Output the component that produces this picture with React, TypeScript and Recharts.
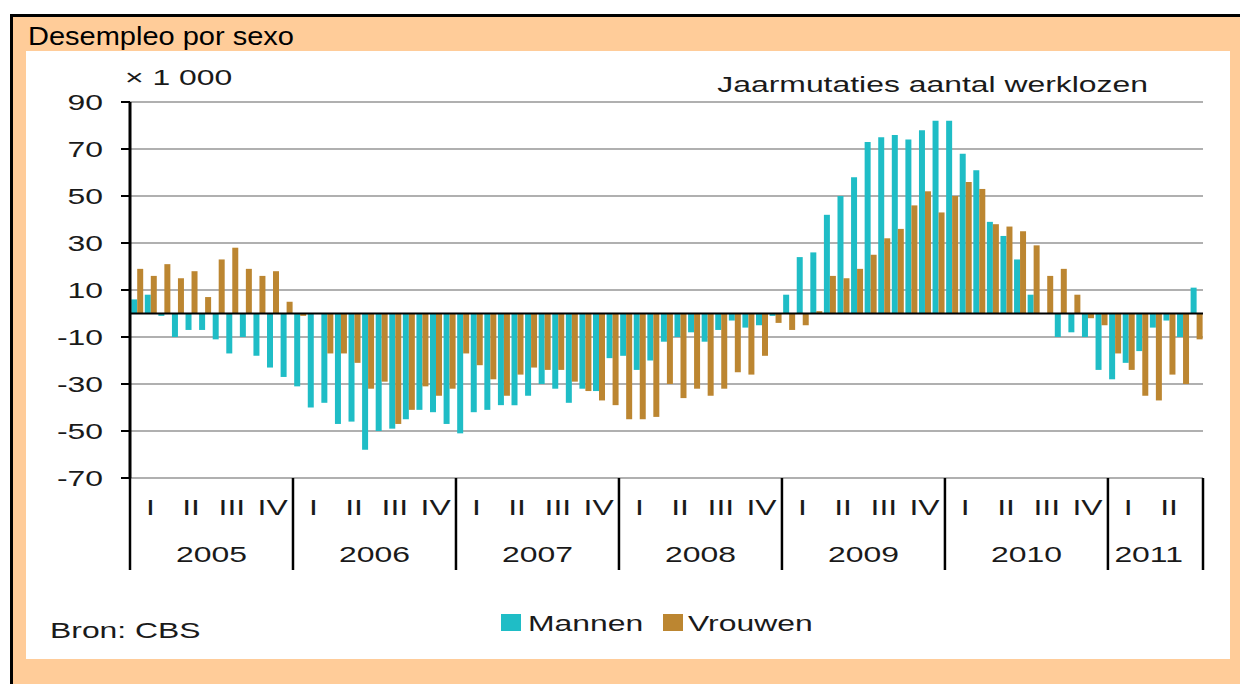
import { BarChart, Bar, XAxis, YAxis, CartesianGrid, ReferenceLine, Legend } from 'recharts';

// Jaarmutaties aantal werklozen (x 1 000), per maand, jan 2005 - jul 2011
const years = [2005, 2006, 2007, 2008, 2009, 2010, 2011];
const monthsPerYear = [12, 12, 12, 12, 12, 12, 7];
const quarters = ['I', 'II', 'III', 'IV'];
const yTicks = [-70, -50, -30, -10, 10, 30, 50, 70, 90];

const mannen = [
    6, 8, -1, -10, -7, -7, -11, -17, -10, -18, -23, -27,
    -31, -40, -38, -47, -46, -58, -50, -49, -45, -41, -42, -47,
    -51, -42, -41, -39, -39, -35, -30, -32, -38, -32, -33, -19,
    -18, -24, -20, -12, -10, -8, -12, -7, -3, -6, -5, -1,
    8, 24, 26, 42, 50, 58, 73, 75, 76, 74, 78, 82,
    82, 68, 61, 39, 33, 23, 8, 0, -10, -8, -10, -24,
    -28, -21, -16, -6, -3, -10, 11,
];

const vrouwen = [
    19, 16, 21, 15, 18, 7, 23, 28, 19, 16, 18, 5,
    -1, 0, -17, -17, -21, -32, -29, -47, -41, -31, -35, -32,
    -17, -22, -28, -35, -26, -23, -24, -24, -29, -33, -37, -39,
    -45, -45, -44, -30, -36, -32, -35, -32, -25, -26, -18, -4,
    -7, -5, 1, 16, 15, 19, 25, 32, 36, 46, 52, 43,
    50, 56, 53, 38, 37, 35, 29, 16, 19, 8, -2, -5,
    -17, -24, -35, -37, -26, -30, -11,
];

const CYAN = '#1fbdc6';
const BROWN = '#bc8631';
const FONT = '"Liberation Sans", Arial, Helvetica, sans-serif';
const STRETCH = 1.45;

const chartData: { month: string; year: number; m: number; mannen: number; vrouwen: number }[] = [];
let k = 0;
years.forEach((yr, yi) => {
    for (let m = 0; m < monthsPerYear[yi]; m++) {
        chartData.push({ month: `${yr}-${m + 1}`, year: yr, m, mannen: mannen[k], vrouwen: vrouwen[k] });
        k++;
    }
});

const PLOT_LEFT = 130;
const PLOT_RIGHT = 1203;
const BAND = (PLOT_RIGHT - PLOT_LEFT) / chartData.length;

// stretched text, the original graphic is wider than it is tall
const Wide = ({ x, y, anchor = 'middle', size = 22, children }: any) => (
    <text
        transform={`translate(${x},${y}) scale(${STRETCH},1)`}
        textAnchor={anchor}
        fontSize={size}
        fontFamily={FONT}
        fill="#1a1a1a"
    >
        {children}
    </text>
);

const YTick = (props: any) => {
    const { x, y, payload } = props;
    return <Wide x={x} y={y + 8} anchor="end">{payload.value}</Wide>;
};

const XTick = (props: any) => {
    const { x, y, payload } = props;
    const row = chartData[payload.index];
    if (!row) return null;
    const left = x - BAND / 2;
    const n = monthsPerYear[years.indexOf(row.year)];
    const isLast = payload.index === chartData.length - 1;
    return (
        <g>
            {row.m === 0 && <line x1={left} x2={left} y1={y} y2={y + 92} stroke="#000" strokeWidth={2.5} />}
            {isLast && <line x1={x + BAND / 2} x2={x + BAND / 2} y1={y} y2={y + 92} stroke="#000" strokeWidth={2.5} />}
            {row.m % 3 === 1 && <Wide x={x} y={y + 37}>{quarters[(row.m - 1) / 3]}</Wide>}
            {row.m === Math.floor(n / 2) && <Wide x={left} y={y + 84}>{row.year}</Wide>}
        </g>
    );
};

const legendOffsets = [[6, 33], [168, 193]];

const LegendContent = (props: any) => {
    const items = props.payload || [];
    return (
        <svg width={360} height={30}>
            {items.map((item: any, i: number) => (
                <g key={item.value}>
                    <rect x={legendOffsets[i][0]} y={6} width={20} height={17} fill={item.color} />
                    <Wide x={legendOffsets[i][1]} y={23} anchor="start">{item.value}</Wide>
                </g>
            ))}
        </svg>
    );
};

const App = () => {
    return (
        <div style={{ position: 'absolute', left: 0, top: 0, width: 1240, height: 684, background: '#fff', overflow: 'hidden' }}>
            <div style={{ position: 'absolute', left: 10, top: 14, width: 1240, height: 700, background: '#ffcc99', borderLeft: '3px solid #000', borderTop: '3px solid #000' }} />
            <div
                style={{
                    position: 'absolute', left: 28, top: 24, fontFamily: FONT, fontSize: 25, lineHeight: '25px',
                    color: '#000', transform: 'scaleX(1.16)', transformOrigin: 'left top', whiteSpace: 'nowrap',
                }}
            >
                Desempleo por sexo
            </div>
            <div style={{ position: 'absolute', left: 26, top: 51, width: 1204, height: 608, background: '#fff' }} />

            <svg style={{ position: 'absolute', left: 0, top: 0 }} width={1240} height={684}>
                <Wide x={125} y={85} anchor="start">× 1 000</Wide>
                <Wide x={1148} y={92} anchor="end">Jaarmutaties aantal werklozen</Wide>
                <Wide x={50} y={638} anchor="start">Bron: CBS</Wide>
            </svg>

            <div style={{ position: 'absolute', left: 0, top: 0 }}>
                <BarChart
                    width={1240}
                    height={684}
                    data={chartData}
                    margin={{ top: 102, right: 37, bottom: 114, left: 70 }}
                    barCategoryGap={1.2}
                    barGap={0}
                >
                    <CartesianGrid vertical={false} stroke="#b0b0b0" strokeWidth={2} />
                    <XAxis
                        dataKey="month"
                        interval={0}
                        height={92}
                        tickSize={0}
                        tickMargin={0}
                        tickLine={false}
                        axisLine={false}
                        tick={<XTick />}
                    />
                    <YAxis
                        domain={[-70, 90]}
                        ticks={yTicks}
                        width={60}
                        tickSize={9}
                        tickMargin={18}
                        axisLine={{ stroke: '#000', strokeWidth: 3 }}
                        tickLine={{ stroke: '#000', strokeWidth: 2 }}
                        tick={<YTick />}
                    />
                    <YAxis
                        yAxisId="r"
                        orientation="right"
                        domain={[-70, 90]}
                        ticks={yTicks}
                        width={0}
                        tick={false}
                        tickLine={false}
                        axisLine={{ stroke: '#a8a8a8', strokeWidth: 2 }}
                    />
                    <Legend
                        layout="horizontal"
                        verticalAlign="middle"
                        content={<LegendContent />}
                        wrapperStyle={{ left: 495, top: 608, width: 360, height: 30 }}
                    />
                    <Bar dataKey="mannen" name="Mannen" fill={CYAN} isAnimationActive={false} />
                    <Bar dataKey="vrouwen" name="Vrouwen" fill={BROWN} isAnimationActive={false} />
                    <ReferenceLine y={0} stroke="#000" strokeWidth={2} />
                </BarChart>
            </div>
        </div>
    );
};

export default App;
